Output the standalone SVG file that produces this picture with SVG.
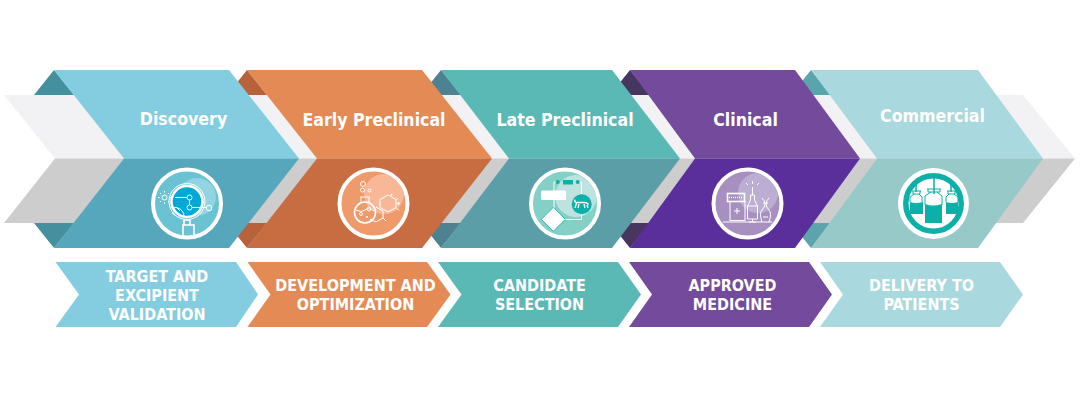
<svg xmlns="http://www.w3.org/2000/svg" width="1080" height="400" viewBox="0 0 1080 400">
<style>
text{font-family:"DejaVu Sans Condensed","DejaVu Sans","Liberation Sans",sans-serif;font-weight:700;fill:#fff;text-anchor:middle}
.h{font-size:17.6px}
.l{font-size:16px}
.w{fill:#fff}
.ln{fill:none;stroke:#fff;stroke-width:1}
.ln2{fill:none;stroke:#fff;stroke-width:1.6}
.t{fill:#0bb0a8}
.tl{fill:none;stroke:#0bb0a8;stroke-width:1}
</style>
<defs>
<clipPath id="c1"><circle cx="187" cy="203.5" r="32"/></clipPath>
<clipPath id="c2"><circle cx="373.5" cy="203.5" r="32"/></clipPath>
<clipPath id="c3"><circle cx="565" cy="203.5" r="32"/></clipPath>
<clipPath id="c4"><circle cx="747.5" cy="203.5" r="32"/></clipPath>
</defs>
<rect width="1080" height="400" fill="#fff"/>
<g id="backdrop">
<path d="M4 95H1023L1075 158.5H55Z" fill="#f2f1f3"/>
<path d="M55 158.5H1075L1023 223H4Z" fill="#cdcdcd"/>
</g>
<g id="folds">
<path d="M34 95L54 70L74 95Z M34 223L54 248L74 223Z" fill="#44909f"/>
<path d="M227 95L247 70L267 95Z M227 223L247 248L267 223Z" fill="#b8623c"/>
<path d="M421 95L441 70L461 95Z M421 223L441 248L461 223Z" fill="#4f8290"/>
<path d="M610 95L630 70L650 95Z M610 223L630 248L650 223Z" fill="#47365f"/>
<path d="M791 95L811 70L831 95Z M791 223L811 248L831 223Z" fill="#5ca4ab"/>
</g>
<g id="stage-discovery">
<path d="M54 70H229L299 158.5H124Z" fill="#84cde0"/>
<path d="M124 158.5H299L229 248H54Z" fill="#56a7bc"/>
<text class="h" x="183.500" y="125">Discovery</text>
<circle cx="187" cy="203.500" r="34" fill="#6bc2d3" stroke="#fff" stroke-width="4"/>
<circle cx="197" cy="197" r="19" fill="#92d4e1" clip-path="url(#c1)"/>
<circle cx="187" cy="201.500" r="15.500" fill="#00a8d6" stroke="#fff" stroke-width="2.500"/>
<circle cx="187" cy="201.500" r="18" class="ln"/>
<path d="M184 220h6v5h-6z M183 225h11v12h-11z" class="ln2"/>
<circle cx="189.500" cy="197.500" r="2.500" class="ln"/>
<circle cx="189.500" cy="207.500" r="2.500" class="ln"/>
<circle cx="209" cy="208" r="2.800" class="ln"/>
<circle cx="164.500" cy="197.500" r="2.500" class="ln"/>
<path d="M189.500 200v5M192 207.500h14M175 197.500h12M164.500 192.500v-1.500M164.500 202.500v1.500M159.500 197.500h-1.500M169.500 197.500h1.500M161 194l-1-1M168 201l1 1M161 201l-1 1M168 194l1-1" class="ln"/>
<path d="M172 208a9 9 0 0 1 12 10M176 207l4 4M172 213l4 3" class="ln"/>
</g>
<g id="stage-early-preclinical">
<path d="M247 70H422L492 158.500H317Z" fill="#e48a55"/>
<path d="M317 158.500H492L422 248H247Z" fill="#c86c42"/>
<text class="h" x="374" y="125.500">Early Preclinical</text>
<circle cx="373.500" cy="203.500" r="34" fill="#ef9a6b" stroke="#fff" stroke-width="4"/>
<circle cx="384" cy="194" r="20" fill="#f8b898" clip-path="url(#c2)"/>
<circle cx="365" cy="212.500" r="10.500" class="ln2"/>
<path d="M360 197h10M361 197v6M369 197v6M356 210q5 3 9 0t9 1" class="ln"/>
<circle cx="363" cy="184" r="2.500" class="ln"/>
<circle cx="362.500" cy="190" r="2" class="ln"/>
<circle cx="369.500" cy="190.500" r="1.500" class="ln"/>
<circle cx="369" cy="209" r="2" class="ln"/>
<circle cx="361" cy="214" r="1.500" class="ln"/>
<circle cx="367" cy="217" r="1" class="w"/>
<path d="M388 195l8 4.500v8l-8 4.500-8-4.500v-8ZM376 207l7 4v7l-7 4-6-3M383 218l3 3M396 199.500l2-1M396 207.500l3 3" class="ln"/>
<circle cx="398.500" cy="203.500" r="1.200" class="w"/>
<circle cx="391.500" cy="195" r="1" class="w"/>
</g>
<g id="stage-late-preclinical">
<path d="M441 70H612L680 158.500H509Z" fill="#5ab9b5"/>
<path d="M509 158.500H680L612 248H441Z" fill="#5c9ea7"/>
<text class="h" x="565" y="125.500">Late Preclinical</text>
<circle cx="565" cy="203.500" r="34" fill="#84cfc6" stroke="#fff" stroke-width="4"/>
<circle cx="576" cy="196" r="21" fill="#bde2e0" clip-path="url(#c3)"/>
<path d="M557.700 182h-3.700v27M577.700 182h3.700v12M563 219.500h18.500v-6" stroke="#fff" fill="none" stroke-width="1"/>
<circle cx="557.700" cy="182" r="2" class="t"/>
<circle cx="577.700" cy="182" r="2" class="t"/>
<rect x="563" y="180" width="10" height="4.500" class="t"/>
<rect x="541" y="190.500" width="25" height="9.500" rx="1.500" class="w"/>
<path d="M553.300 207.300L565.300 219.300L553.300 231.300L541.300 219.300Z" fill="#fff" stroke="#0bb0a8" stroke-width="0.800"/>
<circle cx="581.700" cy="204.300" r="10" class="t"/>
<path d="M576 202.500h8l3 .5q1.500 .5 1 2M576 202.500q-2-1-1-3M576.500 203l-1.500 5M579 204l-1 4M584 204l1 4M587 205l1 3" fill="none" stroke="#fff" stroke-width="1.300"/>
</g>
<g id="stage-clinical">
<path d="M630 70H795L860 158.500H695Z" fill="#734a9c"/>
<path d="M695 158.500H860L795 248H630Z" fill="#5b2f9b"/>
<text class="h" x="745.500" y="125.500">Clinical</text>
<circle cx="747.500" cy="203.500" r="34" fill="#a78fc0" stroke="#fff" stroke-width="4"/>
<circle cx="758" cy="193" r="20" fill="#bcaed2" clip-path="url(#c4)"/>
<rect x="727.500" y="193.500" width="17" height="8" class="ln2"/>
<path d="M729 197.500h14" stroke="#fff" stroke-width="1.600" stroke-dasharray="1 1"/>
<rect x="730" y="201.500" width="15" height="19" class="ln"/>
<path d="M734 211h6M737 208v6" class="ln"/>
<path d="M747.500 206h10v13h-10zM747.500 206l3-6v-5h4v5l3 6M752.500 195v-8M752.500 219v3M749 222h7M752.500 181v3M746 183l2 2M759 183l-2 2M762 198q6 6 0 12q-3 3 0 12M769 198q-6 6 0 12q3 3 0 12M763 203h5M763 217h5" class="ln"/>
<path d="M723 222h49" class="ln"/>
</g>
<g id="stage-commercial">
<path d="M811 70H978L1043 158.500H877Z" fill="#a9d8de"/>
<path d="M877 158.500H1043L978 248H811Z" fill="#97c9c8"/>
<text class="h" x="932.500" y="121.500">Commercial</text>
<circle cx="933.500" cy="203.500" r="35.500" fill="#fff"/>
<circle cx="933.500" cy="203.500" r="27.700" fill="#fff" stroke="#0bb0a8" stroke-width="5.500"/>
<path d="M934 178v16M916 184v8M951 184v8" stroke="#0bb0a8" stroke-width="1.500"/>
<path d="M927 189h14M928 189v3h12v-3M931 192l-6 4v9M937 192l5 4v9M912 191h9M913 191v3h7v-3M914 194l-4 3v5M919 194l3 3v5M947 191h9M948 191v3h7v-3M949 194l-3 3v5M954 194l4 3v5" class="tl"/>
<path d="M925 204q8.500 3 17 0v19h-17zM910 202q6 2 13 0v12h-13zM946 202q6 2 12 0v12h-12z" class="t"/>
</g>
<g id="label-target">
<path d="M55.500 262H236L258 294.500L236 327H55.500L79 294.500Z" fill="#84cde0"/>
<text class="l" x="157" y="281.500">TARGET AND</text>
<text class="l" x="157" y="300.500">EXCIPIENT</text>
<text class="l" x="157" y="320">VALIDATION</text>
</g>
<g id="label-development">
<path d="M247.500 262H427L450.500 294.500L427 327H247.500L270.500 294.500Z" fill="#e48a55"/>
<text class="l" x="355.500" y="290.500">DEVELOPMENT AND</text>
<text class="l" x="355.500" y="310">OPTIMIZATION</text>
</g>
<g id="label-candidate">
<path d="M438 262H618L641 294.500L618 327H438L461.500 294.500Z" fill="#5ab9b5"/>
<text class="l" x="539.500" y="290.500">CANDIDATE</text>
<text class="l" x="539.500" y="310">SELECTION</text>
</g>
<g id="label-approved">
<path d="M629 262H809L832 294.500L809 327H629L652 294.500Z" fill="#734a9c"/>
<text class="l" x="732.500" y="290.500">APPROVED</text>
<text class="l" x="732.500" y="310">MEDICINE</text>
</g>
<g id="label-delivery">
<path d="M820 262H1000L1023 294.500L1000 327H820L843 294.500Z" fill="#a9d8de"/>
<text class="l" x="921.500" y="290.500">DELIVERY TO</text>
<text class="l" x="921.500" y="310">PATIENTS</text>
</g>
</svg>
